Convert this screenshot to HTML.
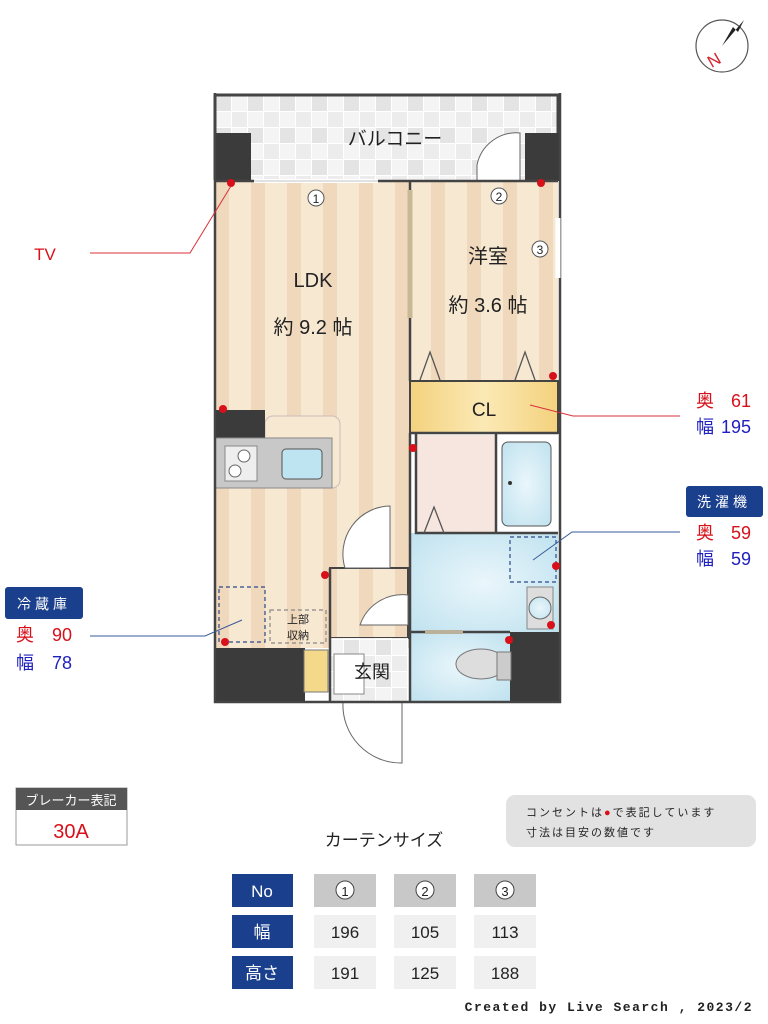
<!DOCTYPE html>
<html><head><meta charset="utf-8"><style>
html,body{margin:0;padding:0;background:#fff;width:768px;height:1024px;overflow:hidden}
svg{display:block}
text{font-family:"Liberation Sans","Noto Sans CJK JP",sans-serif}
</style></head><body>
<svg width="768" height="1024" viewBox="0 0 768 1024" xmlns="http://www.w3.org/2000/svg">
<defs>
<pattern id="wood" x="215" y="0" width="36" height="10" patternUnits="userSpaceOnUse">
<rect width="36" height="10" fill="#f7e8d2"/><rect x="0" width="14" height="10" fill="#efd8bb"/></pattern>
<pattern id="chk" x="215" y="95" width="32" height="32" patternUnits="userSpaceOnUse">
<rect width="32" height="32" fill="#f4f4f4"/><rect width="16" height="16" fill="#e4e4e4"/><rect x="16" y="16" width="16" height="16" fill="#ececec"/>
<path d="M0 0.5H32M0.5 0V32M0 16.5H32M16.5 0V32" stroke="#fff" stroke-width="1"/></pattern>
<radialGradient id="blue" cx="0.5" cy="0.5" r="0.7"><stop offset="0" stop-color="#eaf6fb"/><stop offset="1" stop-color="#bfe2ef"/></radialGradient>
<linearGradient id="yel" x1="0" x2="1"><stop offset="0" stop-color="#f4d27e"/><stop offset="0.5" stop-color="#fbe9b5"/><stop offset="1" stop-color="#f4d27e"/></linearGradient>
</defs>

<!-- compass -->
<circle cx="722" cy="46" r="26" fill="#fff" stroke="#555" stroke-width="1.2"/>
<polygon points="744,20 738,32 733,27 722,46" fill="#222"/>
<text x="714" y="66" font-size="17" fill="#d8202a" transform="rotate(-30 714 60)" text-anchor="middle">N</text>

<!-- balcony -->
<rect x="215" y="95" width="343" height="87" fill="url(#chk)"/>
<path d="M215 180 V95 H558 V180" stroke="#444" stroke-width="3" fill="none"/>
<rect x="215" y="133" width="36" height="48" fill="#3b3b3b"/>
<rect x="525" y="133" width="34" height="48" fill="#3b3b3b"/>
<text x="395" y="145" font-size="19" text-anchor="middle" fill="#222">バルコニー</text>
<path d="M477 180 V165 A40 40 0 0 1 520 133 V180" fill="#fff" stroke="#666" stroke-width="1"/>

<!-- floors -->
<rect x="215" y="181" width="195" height="467" fill="url(#wood)"/>
<rect x="410" y="181" width="148" height="200" fill="url(#wood)"/>
<rect x="410" y="381" width="148" height="52" fill="url(#yel)" stroke="#444" stroke-width="2"/>
<text x="484" y="416" font-size="19" text-anchor="middle" fill="#222">CL</text>
<!-- bath -->
<rect x="416" y="435" width="80" height="98" fill="#f6e6df"/>
<rect x="496" y="435" width="62" height="98" fill="#fff"/>
<rect x="502" y="442" width="49" height="84" rx="6" fill="url(#blue)" stroke="#555" stroke-width="1"/>
<circle cx="510" cy="483" r="2" fill="#333"/>
<rect x="410" y="533" width="148" height="100" fill="url(#blue)"/>
<rect x="410" y="633" width="100" height="68" fill="url(#blue)"/>
<rect x="510" y="632" width="50" height="70" fill="#3b3b3b"/>
<ellipse cx="481" cy="664" rx="25" ry="15" fill="#ddd" stroke="#777"/>
<rect x="497" y="652" width="14" height="28" fill="#ccc" stroke="#777"/>
<rect x="527" y="587" width="26" height="42" fill="#ddd" stroke="#888"/>
<circle cx="540" cy="608" r="11" fill="url(#blue)" stroke="#666"/>
<rect x="510" y="537" width="46" height="45" fill="none" stroke="#2a4a8a" stroke-width="1.2" stroke-dasharray="4,3"/>
<!-- corridor room / genkan -->
<rect x="330" y="568" width="78" height="70" fill="url(#wood)" stroke="#444" stroke-width="2"/>
<path d="M408 595 A45 45 0 0 0 360 625 H408 Z" fill="#fff" stroke="#666"/>
<path d="M390 568 V506 A48 48 0 0 0 345 568 Z" fill="#fff" stroke="#666"/>
<rect x="330" y="638" width="78" height="63" fill="url(#chk)"/>
<rect x="334" y="654" width="30" height="40" fill="#fff" stroke="#888"/>
<text x="372" y="678" font-size="18" text-anchor="middle" fill="#222">玄関</text>
<rect x="215" y="648" width="90" height="54" fill="#3b3b3b"/>
<rect x="304" y="650" width="24" height="42" fill="#f5d98a" stroke="#777"/>
<!-- entrance door -->
<path d="M343 702 A58 58 0 0 0 402 763 V702" fill="#fff" stroke="#666"/>
<!-- kitchen -->
<rect x="265" y="416" width="75" height="72" rx="8" fill="#f7e8d2" stroke="#cbb" stroke-width="1"/>
<rect x="215" y="410" width="50" height="28" fill="#3b3b3b"/>
<rect x="215" y="438" width="117" height="50" fill="#c8c8c8" stroke="#888"/>
<rect x="225" y="446" width="32" height="35" fill="#eee" stroke="#888"/>
<circle cx="244" cy="456" r="6" fill="#fff" stroke="#666"/><circle cx="235" cy="471" r="6" fill="#fff" stroke="#666"/>
<rect x="282" y="449" width="40" height="30" rx="4" fill="#bde4f0" stroke="#555"/>
<!-- fridge / storage dashed -->
<rect x="219" y="587" width="46" height="55" fill="none" stroke="#2a4a8a" stroke-width="1.2" stroke-dasharray="4,3"/>
<rect x="270" y="610" width="56" height="33" fill="none" stroke="#888" stroke-width="1.2" stroke-dasharray="4,3"/>
<text x="298" y="623" font-size="11" text-anchor="middle" fill="#222">上部</text>
<text x="298" y="639" font-size="11" text-anchor="middle" fill="#222">収納</text>

<!-- walls -->
<g stroke="#444" stroke-width="2.5" fill="none">
<path d="M215 93 V702 H560 V93"/>
<path d="M215 181 H558"/>
<path d="M410 181 V381"/>
<path d="M410 433 H558"/>
<path d="M410 433 V702"/>
<path d="M416 433 V533 H558"/>
<path d="M496 433 V533"/>
<path d="M410 632 H510"/>
<path d="M330 568 V702"/>
</g>
<line x1="410" y1="190" x2="410" y2="318" stroke="#c8b896" stroke-width="5"/>
<line x1="254" y1="181" x2="378" y2="181" stroke="#fff" stroke-width="4"/>
<line x1="254" y1="181" x2="378" y2="181" stroke="#888" stroke-width="0.6"/>
<line x1="558" y1="218" x2="558" y2="278" stroke="#fff" stroke-width="5"/>
<line x1="425" y1="632" x2="463" y2="632" stroke="#bbb09a" stroke-width="4"/>
<path d="M420 380 L430 352 L440 380 M515 380 L525 352 L535 380 M424 533 L434 507 L444 533" stroke="#555" stroke-width="1.3" fill="none"/>

<!-- circled numbers -->
<g font-size="12" text-anchor="middle" fill="#222">
<circle cx="316" cy="198" r="8" fill="#fff" stroke="#555"/><text x="316" y="203">1</text>
<circle cx="499" cy="196" r="8" fill="#fff" stroke="#555"/><text x="499" y="201">2</text>
<circle cx="540" cy="249" r="8" fill="#fff" stroke="#555"/><text x="540" y="254">3</text>
</g>
<text x="313" y="287" font-size="20" text-anchor="middle" fill="#222">LDK</text>
<text x="313" y="334" font-size="20" text-anchor="middle" fill="#222">約 9.2 帖</text>
<text x="488" y="263" font-size="20" text-anchor="middle" fill="#222">洋室</text>
<text x="488" y="312" font-size="20" text-anchor="middle" fill="#222">約 3.6 帖</text>

<!-- outlets -->
<g fill="#d8101a">
<circle cx="231" cy="183" r="4"/><circle cx="541" cy="183" r="4"/><circle cx="553" cy="376" r="4"/>
<circle cx="223" cy="409" r="4"/><circle cx="413" cy="448" r="4"/><circle cx="325" cy="575" r="4"/>
<circle cx="556" cy="566" r="4"/><circle cx="551" cy="625" r="4"/><circle cx="509" cy="640" r="4"/><circle cx="225" cy="642" r="4"/>
</g>

<!-- leader lines -->
<path d="M90 253 H190 L231 186" stroke="#d8303a" stroke-width="1" fill="none"/>
<text x="45" y="260" font-size="17" text-anchor="middle" fill="#d8101a">TV</text>
<path d="M530 405 L573 416 H680" stroke="#d8303a" stroke-width="1" fill="none"/>
<path d="M533 560 L572 532 H680" stroke="#3a5a9a" stroke-width="1" fill="none"/>
<path d="M242 620 L205 636 H90" stroke="#3a5a9a" stroke-width="1" fill="none"/>

<g font-size="18">
<text x="696" y="407" fill="#d8101a">奥</text><text x="751" y="407" fill="#d8101a" text-anchor="end">61</text>
<text x="696" y="433" fill="#2020c0">幅</text><text x="751" y="433" fill="#2020c0" text-anchor="end">195</text>
<rect x="686" y="486" width="77" height="31" rx="3" fill="#1a3f8c"/>
<text x="724" y="507" font-size="14" fill="#fff" text-anchor="middle" letter-spacing="4">洗濯機</text>
<text x="696" y="539" fill="#d8101a">奥</text><text x="751" y="539" fill="#d8101a" text-anchor="end">59</text>
<text x="696" y="565" fill="#2020c0">幅</text><text x="751" y="565" fill="#2020c0" text-anchor="end">59</text>
<rect x="5" y="587" width="78" height="32" rx="3" fill="#1a3f8c"/>
<text x="44" y="609" font-size="14" fill="#fff" text-anchor="middle" letter-spacing="4">冷蔵庫</text>
<text x="16" y="641" fill="#d8101a">奥</text><text x="72" y="641" fill="#d8101a" text-anchor="end">90</text>
<text x="16" y="669" fill="#2020c0">幅</text><text x="72" y="669" fill="#2020c0" text-anchor="end">78</text>
</g>

<!-- breaker -->
<rect x="16" y="788" width="111" height="57" fill="#fff" stroke="#999"/>
<rect x="16" y="788" width="111" height="22" fill="#555"/>
<text x="71" y="805" font-size="13" fill="#fff" text-anchor="middle">ブレーカー表記</text>
<text x="71" y="838" font-size="20" fill="#d8101a" text-anchor="middle">30A</text>

<!-- note -->
<rect x="506" y="795" width="250" height="52" rx="9" fill="#e2e2e2"/>
<text x="526" y="816" font-size="11" fill="#222" letter-spacing="2">コンセントは<tspan fill="#d8101a">●</tspan>で表記しています</text>
<text x="526" y="836" font-size="11" fill="#222" letter-spacing="2">寸法は目安の数値です</text>

<text x="384" y="846" font-size="17" text-anchor="middle" fill="#222">カーテンサイズ</text>

<!-- table -->
<g font-size="17" text-anchor="middle">
<rect x="232" y="874" width="61" height="33" fill="#1a3f8c"/><text x="262" y="897" fill="#fff">No</text>
<rect x="232" y="915" width="61" height="33" fill="#1a3f8c"/><text x="262" y="938" fill="#fff">幅</text>
<rect x="232" y="956" width="61" height="33" fill="#1a3f8c"/><text x="262" y="979" fill="#fff">高さ</text>
<rect x="314" y="874" width="62" height="33" fill="#c8c8c8"/>
<rect x="394" y="874" width="62" height="33" fill="#c8c8c8"/>
<rect x="474" y="874" width="62" height="33" fill="#c8c8c8"/>
<circle cx="345" cy="890" r="9" fill="#fff" stroke="#444"/><text x="345" y="896" font-size="13" fill="#222">1</text>
<circle cx="425" cy="890" r="9" fill="#fff" stroke="#444"/><text x="425" y="896" font-size="13" fill="#222">2</text>
<circle cx="505" cy="890" r="9" fill="#fff" stroke="#444"/><text x="505" y="896" font-size="13" fill="#222">3</text>
<rect x="314" y="915" width="62" height="33" fill="#f0f0f0"/><text x="345" y="938" fill="#222">196</text>
<rect x="394" y="915" width="62" height="33" fill="#f0f0f0"/><text x="425" y="938" fill="#222">105</text>
<rect x="474" y="915" width="62" height="33" fill="#f0f0f0"/><text x="505" y="938" fill="#222">113</text>
<rect x="314" y="956" width="62" height="33" fill="#f0f0f0"/><text x="345" y="979" fill="#222">191</text>
<rect x="394" y="956" width="62" height="33" fill="#f0f0f0"/><text x="425" y="979" fill="#222">125</text>
<rect x="474" y="956" width="62" height="33" fill="#f0f0f0"/><text x="505" y="979" fill="#222">188</text>
</g>
<text x="753" y="1011" font-size="13" font-weight="bold" text-anchor="end" fill="#222" letter-spacing="1.5" style="font-family:'Liberation Mono',monospace">Created by Live Search , 2023/2</text>
</svg>
</body></html>
